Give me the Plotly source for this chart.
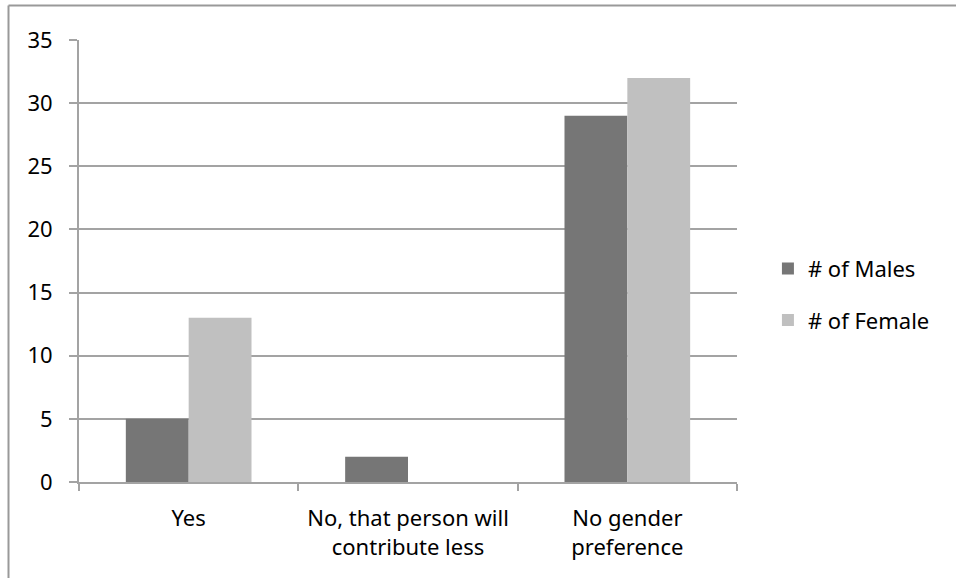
import plotly.graph_objects as go

categories = ["Yes", "No, that person will<br>contribute less", "No gender<br>preference"]
males = [5, 2, 29]
females = [13, 0, 32]
y_ticks = [0, 5, 10, 15, 20, 25, 30, 35]

GRID = "#a3a3a3"
FONT = dict(family="'Noto Sans', sans-serif", size=22, color="#000000")

fig = go.Figure()
fig.add_trace(go.Bar(x=categories, y=males, name="# of Males",
                     marker=dict(color="#767676", line=dict(width=0)),
                     legendgroup="m"))
fig.add_trace(go.Bar(x=categories, y=females, name="# of Female",
                     marker=dict(color="#c0c0c0", line=dict(width=0)),
                     legendgroup="f"))

fig.update_layout(
    width=956, height=578,
    margin=dict(l=79, r=219, t=40, b=96),
    paper_bgcolor="white", plot_bgcolor="white",
    font=FONT,
    barmode="group", bargap=0.427, bargroupgap=0,
    showlegend=True,
    legend=dict(x=1.047, y=0.424, xanchor="left", yanchor="middle",
                tracegroupgap=20, font=dict(size=22),
                itemwidth=30, bgcolor="rgba(0,0,0,0)"),
    xaxis=dict(type="category", showgrid=False, showline=True, linecolor=GRID,
               linewidth=2, ticks="outside", tickson="boundaries", ticklen=7,
               tickcolor=GRID, tickwidth=2, ticklabelstandoff=16, fixedrange=True),
    yaxis=dict(range=[0, 35], tickvals=y_ticks, showgrid=True, gridcolor=GRID,
               gridwidth=2, showline=True, linecolor=GRID, linewidth=2,
               ticks="outside", ticklen=8, tickcolor=GRID, tickwidth=2,
               ticklabelstandoff=12, zeroline=False, fixedrange=True),
    shapes=[
        dict(type="line", xref="paper", yref="paper",
             x0=(8.5 - 79) / 658, x1=1.5, y0=(482 - 5.5) / 442, y1=(482 - 5.5) / 442,
             line=dict(color="#999999", width=2)),
        dict(type="line", xref="paper", yref="paper",
             x0=(8.5 - 79) / 658, x1=(8.5 - 79) / 658, y0=(482 - 5.5) / 442, y1=-0.3,
             line=dict(color="#999999", width=2)),
    ],
)

fig.write_html("out.html")
